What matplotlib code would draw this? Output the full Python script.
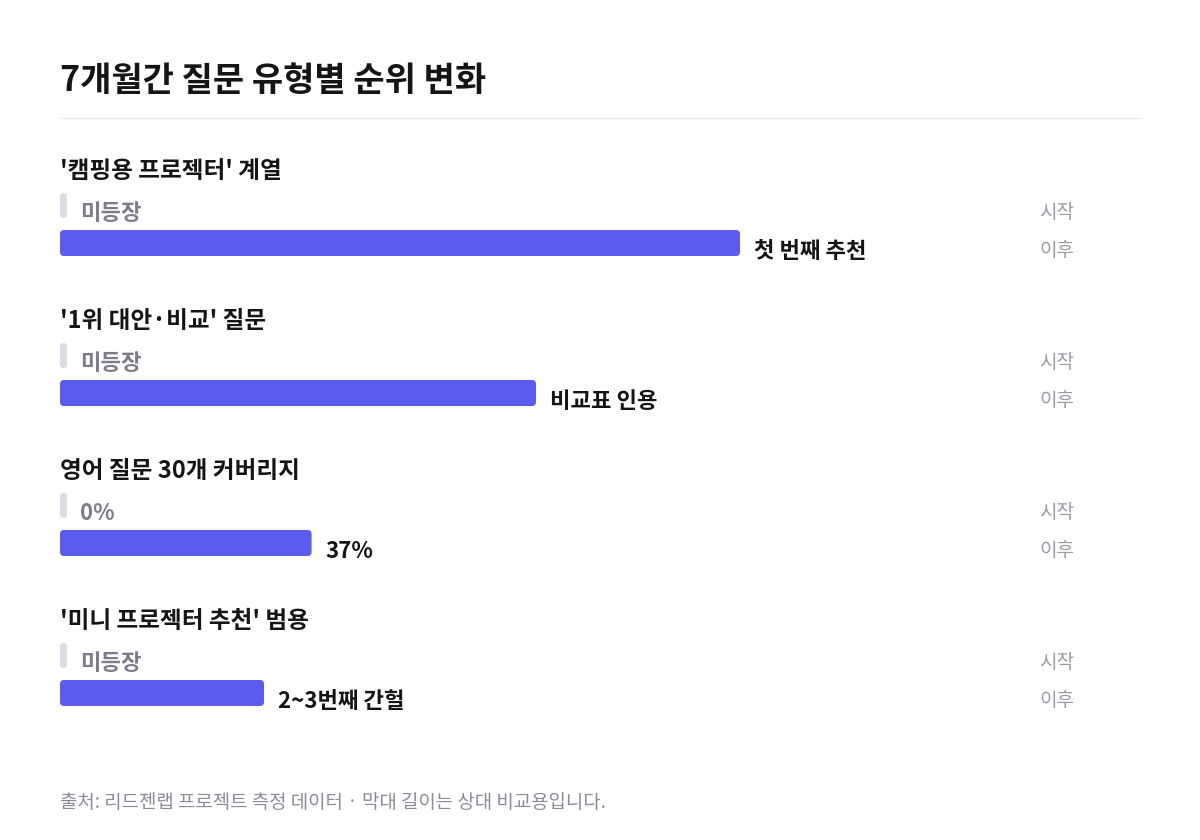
import matplotlib.pyplot as plt
from matplotlib.patches import FancyBboxPatch

plt.rcParams['font.family'] = ['Noto Sans CJK KR', 'DejaVu Sans']

title = "7개월간 질문 유형별 순위 변화"
groups = ["'캠핑용 프로젝터' 계열", "'1위 대안·비교' 질문", "영어 질문 30개 커버리지", "'미니 프로젝터 추천' 범용"]
before_vals = [0, 0, 0, 0]
after_vals = [100, 70, 37, 30]
before_labels = ["미등장", "미등장", "0%", "미등장"]
after_labels = ["첫 번째 추천", "비교표 인용", "37%", "2~3번째 간헐"]
source = "출처: 리드젠랩 프로젝트 측정 데이터 · 막대 길이는 상대 비교용입니다."

BLUE = '#5b5bef'
PILL = '#dcdce2'
px_per_unit = 6.8   # 100 -> 680 px
x0 = 60

fig = plt.figure(figsize=(12, 8.4), dpi=100)
ax = fig.add_axes([0, 0, 1, 1])
ax.set_xlim(-x0 / px_per_unit, (1200 - x0) / px_per_unit)
ax.set_ylim(840, 0)
ax.axis('off')

def u(px):
    return px / px_per_unit

def rbar(val, yc, h, color, minw=0):
    w = max(val, minw)
    r = u(min(4, h / 2, w * px_per_unit / 2))
    p = FancyBboxPatch((0, yc - h / 2), w, h,
                       boxstyle=f"round,pad=0,rounding_size={r}",
                       mutation_aspect=px_per_unit, fc=color, ec='none')
    ax.add_patch(p)
    return w

ax.text(0, 80, title, fontsize=24.5, fontweight='bold', color='#151515', va='center', ha='left')
ax.plot([0, u(1080)], [118, 118], color='#e8e8ec', lw=1)

for i, g in enumerate(groups):
    top = 150 * i
    ax.text(0, 171 + top, g, fontsize=17, fontweight='bold', color='#151515', va='center', ha='left')
    # start bar
    rbar(before_vals[i], 205.5 + top, 25, PILL, minw=u(7))
    ax.text(u(20), 214 + top, before_labels[i], fontsize=16, fontweight='bold', color='#7c7c8a',
            va='center', ha='left')
    # after bar
    w = rbar(after_vals[i], 243 + top, 26, BLUE)
    ax.text(w + u(14), 251 + top, after_labels[i], fontsize=16, fontweight='bold', color='#151515',
            va='center', ha='left')
    ax.text(u(1014), 212 + top, "시작", fontsize=13.7, color='#9a9aa4', va='center', ha='right')
    ax.text(u(1014), 250 + top, "이후", fontsize=13.7, color='#9a9aa4', va='center', ha='right')

ax.text(0, 802, source, fontsize=13.6, color='#8b8b98', va='center', ha='left')

fig.savefig('out.png', dpi=100, facecolor='white')
